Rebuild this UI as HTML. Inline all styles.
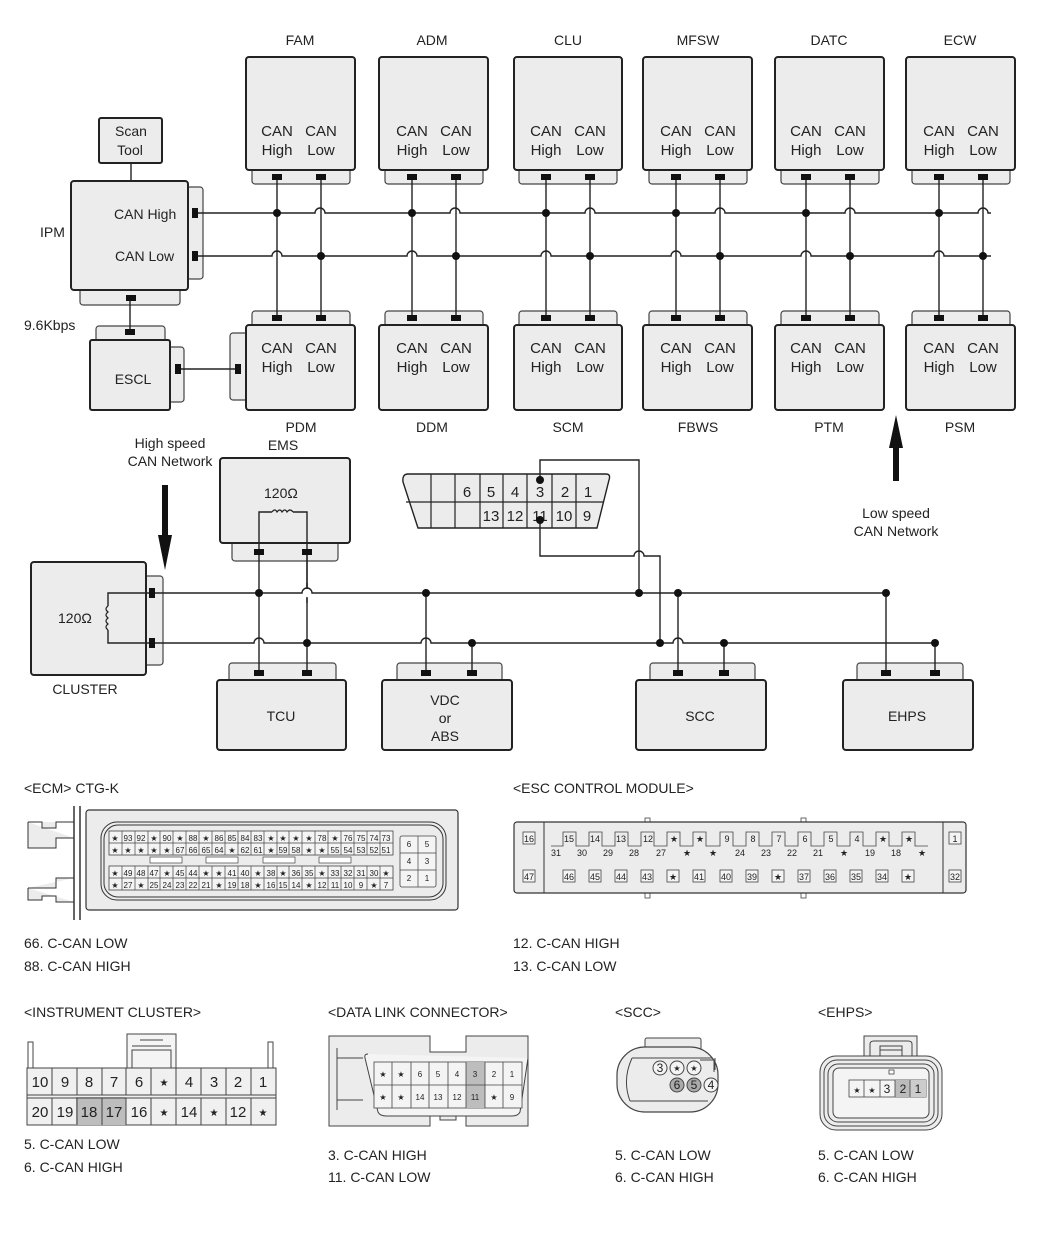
<!DOCTYPE html>
<html><head><meta charset="utf-8"><style>
html,body{margin:0;padding:0;background:#fff;}
svg{display:block;font-family:"Liberation Sans",sans-serif;}
.b{fill:#ececec;stroke:#222;stroke-width:2;}
.t{fill:#ececec;stroke:#444;stroke-width:1.2;}
.w{fill:none;stroke:#222;stroke-width:1.4;}
.p{fill:#111;}
.c{fill:#f2f2f2;stroke:#555;stroke-width:0.8;}
.g{fill:#aaa;stroke:#555;stroke-width:0.8;}
text{fill:#222;}
.l{font-size:14px;text-anchor:middle;}
.m{font-size:15px;text-anchor:middle;}
.s{font-size:14px;}
.n{font-size:8px;text-anchor:middle;}
.k{font-size:13px;text-anchor:middle;}
</style></head><body>
<svg width="1050" height="1242" viewBox="0 0 1050 1242" xmlns="http://www.w3.org/2000/svg">
<!-- top modules -->
<g>
<rect class="t" x="252" y="166" width="98" height="18" rx="3"/><rect class="b" x="246" y="57" width="109" height="113" rx="3"/>
<rect class="t" x="385" y="166" width="98" height="18" rx="3"/><rect class="b" x="379" y="57" width="109" height="113" rx="3"/>
<rect class="t" x="519" y="166" width="98" height="18" rx="3"/><rect class="b" x="514" y="57" width="108" height="113" rx="3"/>
<rect class="t" x="649" y="166" width="98" height="18" rx="3"/><rect class="b" x="643" y="57" width="109" height="113" rx="3"/>
<rect class="t" x="781" y="166" width="98" height="18" rx="3"/><rect class="b" x="775" y="57" width="109" height="113" rx="3"/>
<rect class="t" x="912" y="166" width="98" height="18" rx="3"/><rect class="b" x="906" y="57" width="109" height="113" rx="3"/>
</g>
<text class="l" x="300" y="45">FAM</text><text class="l" x="432" y="45">ADM</text><text class="l" x="568" y="45">CLU</text>
<text class="l" x="698" y="45">MFSW</text><text class="l" x="829" y="45">DATC</text><text class="l" x="960" y="45">ECW</text>
<g class="m">
<text x="277" y="136">CAN</text><text x="277" y="155">High</text><text x="321" y="136">CAN</text><text x="321" y="155">Low</text>
<text x="412" y="136">CAN</text><text x="412" y="155">High</text><text x="456" y="136">CAN</text><text x="456" y="155">Low</text>
<text x="546" y="136">CAN</text><text x="546" y="155">High</text><text x="590" y="136">CAN</text><text x="590" y="155">Low</text>
<text x="676" y="136">CAN</text><text x="676" y="155">High</text><text x="720" y="136">CAN</text><text x="720" y="155">Low</text>
<text x="806" y="136">CAN</text><text x="806" y="155">High</text><text x="850" y="136">CAN</text><text x="850" y="155">Low</text>
<text x="939" y="136">CAN</text><text x="939" y="155">High</text><text x="983" y="136">CAN</text><text x="983" y="155">Low</text>
</g>
<!-- bottom row modules -->
<rect class="t" x="230" y="333" width="18" height="67" rx="3"/>
<g>
<rect class="t" x="252" y="311" width="98" height="18" rx="3"/><rect class="b" x="246" y="325" width="109" height="85" rx="3"/>
<rect class="t" x="385" y="311" width="98" height="18" rx="3"/><rect class="b" x="379" y="325" width="109" height="85" rx="3"/>
<rect class="t" x="519" y="311" width="98" height="18" rx="3"/><rect class="b" x="514" y="325" width="108" height="85" rx="3"/>
<rect class="t" x="649" y="311" width="98" height="18" rx="3"/><rect class="b" x="643" y="325" width="109" height="85" rx="3"/>
<rect class="t" x="781" y="311" width="98" height="18" rx="3"/><rect class="b" x="775" y="325" width="109" height="85" rx="3"/>
<rect class="t" x="912" y="311" width="98" height="18" rx="3"/><rect class="b" x="906" y="325" width="109" height="85" rx="3"/>
</g>
<g class="m">
<text x="277" y="353">CAN</text><text x="277" y="372">High</text><text x="321" y="353">CAN</text><text x="321" y="372">Low</text>
<text x="412" y="353">CAN</text><text x="412" y="372">High</text><text x="456" y="353">CAN</text><text x="456" y="372">Low</text>
<text x="546" y="353">CAN</text><text x="546" y="372">High</text><text x="590" y="353">CAN</text><text x="590" y="372">Low</text>
<text x="676" y="353">CAN</text><text x="676" y="372">High</text><text x="720" y="353">CAN</text><text x="720" y="372">Low</text>
<text x="806" y="353">CAN</text><text x="806" y="372">High</text><text x="850" y="353">CAN</text><text x="850" y="372">Low</text>
<text x="939" y="353">CAN</text><text x="939" y="372">High</text><text x="983" y="353">CAN</text><text x="983" y="372">Low</text>
</g>
<text class="l" x="301" y="432">PDM</text><text class="l" x="432" y="432">DDM</text><text class="l" x="568" y="432">SCM</text>
<text class="l" x="698" y="432">FBWS</text><text class="l" x="829" y="432">PTM</text><text class="l" x="960" y="432">PSM</text>
<!-- IPM, Scan tool, ESCL -->
<rect class="b" x="99" y="118" width="63" height="45" rx="2"/>
<text class="l" x="131" y="136">Scan</text><text class="l" x="130" y="155">Tool</text>
<line class="w" x1="131" y1="163" x2="131" y2="182"/>
<rect class="t" x="187" y="187" width="16" height="92" rx="3"/>
<rect class="t" x="80" y="286" width="100" height="19" rx="3"/>
<rect class="b" x="71" y="181" width="117" height="109" rx="3"/>
<text class="s" x="114" y="219">CAN High</text><text class="s" x="115" y="261">CAN Low</text>
<text class="s" x="40" y="237">IPM</text>
<text class="s" x="24" y="330">9.6Kbps</text>
<rect class="t" x="167" y="347" width="17" height="55" rx="3"/>
<rect class="t" x="96" y="326" width="69" height="17" rx="3"/>
<rect class="b" x="90" y="340" width="80" height="70" rx="2"/>
<text class="l" x="133" y="384">ESCL</text>
<line class="w" x1="130" y1="298" x2="130" y2="333"/>
<line class="w" x1="178" y1="369" x2="237" y2="369"/>
<!-- top network wires -->
<path class="w" d="M195 213 H315 a5 5 0 0 1 10 0 H450 a5 5 0 0 1 10 0 H585 a5 5 0 0 1 10 0 H715 a5 5 0 0 1 10 0 H845 a5 5 0 0 1 10 0 H978 a5 5 0 0 1 10 0 H991"/>
<path class="w" d="M195 256 H272 a5 5 0 0 1 10 0 H407 a5 5 0 0 1 10 0 H541 a5 5 0 0 1 10 0 H671 a5 5 0 0 1 10 0 H801 a5 5 0 0 1 10 0 H934 a5 5 0 0 1 10 0 H991"/>
<path class="w" d="M277 177V318M321 177V318M412 177V318M456 177V318M546 177V318M590 177V318M676 177V318M720 177V318M806 177V318M850 177V318M939 177V318M983 177V318"/>
<g class="p">
<circle cx="277" cy="213" r="4"/><circle cx="412" cy="213" r="4"/><circle cx="546" cy="213" r="4"/><circle cx="676" cy="213" r="4"/><circle cx="806" cy="213" r="4"/><circle cx="939" cy="213" r="4"/>
<circle cx="321" cy="256" r="4"/><circle cx="456" cy="256" r="4"/><circle cx="590" cy="256" r="4"/><circle cx="720" cy="256" r="4"/><circle cx="850" cy="256" r="4"/><circle cx="983" cy="256" r="4"/>
<rect x="272" y="174" width="10" height="6"/><rect x="316" y="174" width="10" height="6"/><rect x="407" y="174" width="10" height="6"/><rect x="451" y="174" width="10" height="6"/><rect x="541" y="174" width="10" height="6"/><rect x="585" y="174" width="10" height="6"/><rect x="671" y="174" width="10" height="6"/><rect x="715" y="174" width="10" height="6"/><rect x="801" y="174" width="10" height="6"/><rect x="845" y="174" width="10" height="6"/><rect x="934" y="174" width="10" height="6"/><rect x="978" y="174" width="10" height="6"/>
<rect x="272" y="315" width="10" height="6"/><rect x="316" y="315" width="10" height="6"/><rect x="407" y="315" width="10" height="6"/><rect x="451" y="315" width="10" height="6"/><rect x="541" y="315" width="10" height="6"/><rect x="585" y="315" width="10" height="6"/><rect x="671" y="315" width="10" height="6"/><rect x="715" y="315" width="10" height="6"/><rect x="801" y="315" width="10" height="6"/><rect x="845" y="315" width="10" height="6"/><rect x="934" y="315" width="10" height="6"/><rect x="978" y="315" width="10" height="6"/>
<rect x="192" y="208" width="6" height="10"/><rect x="192" y="251" width="6" height="10"/>
<rect x="126" y="295" width="10" height="6"/><rect x="125" y="329" width="10" height="6"/>
<rect x="175" y="364" width="6" height="10"/><rect x="235" y="364" width="6" height="10"/>
</g>
<!-- arrows -->
<text class="l" x="170" y="448">High speed</text><text class="l" x="170" y="466">CAN Network</text>
<rect x="162" y="485" width="6" height="50" fill="#111"/><polygon points="158,535 172,535 165,570" fill="#111"/>
<rect x="893" y="448" width="6" height="33" fill="#111"/><polygon points="889,448 903,448 896,415" fill="#111"/>
<text class="l" x="896" y="518">Low speed</text><text class="l" x="896" y="536">CAN Network</text>
<!-- EMS -->
<text class="l" x="283" y="450">EMS</text>
<rect class="t" x="232" y="538" width="106" height="23" rx="3"/>
<rect class="b" x="220" y="458" width="130" height="85" rx="3"/>
<text class="s" x="264" y="498">120Ω</text>
<path class="w" d="M259 552 V512 H272 M293 512 H307 V552"/>
<path d="M272 512 q3 -4 5 0 q3 -4 5 0 q3 -4 5 0 q3 -4 6 0" fill="none" stroke="#222" stroke-width="1.2"/>
<!-- cluster -->
<rect class="t" x="143" y="576" width="20" height="89" rx="3"/>
<rect class="b" x="31" y="562" width="115" height="113" rx="3"/>
<text class="s" x="58" y="623">120Ω</text>
<path class="w" d="M152 593 H108 V606 M108 630 V643 H152"/>
<path d="M108 606 q-4 3 0 6 q-4 3 0 6 q-4 3 0 6 q-4 3 0 6" fill="none" stroke="#222" stroke-width="1.2"/>
<text class="l" x="85" y="694">CLUSTER</text>
<!-- lower modules -->
<rect class="t" x="229" y="663" width="107" height="21" rx="3"/><rect class="b" x="217" y="680" width="129" height="70" rx="3"/>
<rect class="t" x="397" y="663" width="105" height="21" rx="3"/><rect class="b" x="382" y="680" width="130" height="70" rx="3"/>
<rect class="t" x="650" y="663" width="105" height="21" rx="3"/><rect class="b" x="636" y="680" width="130" height="70" rx="3"/>
<rect class="t" x="857" y="663" width="106" height="21" rx="3"/><rect class="b" x="843" y="680" width="130" height="70" rx="3"/>
<text class="l" x="281" y="721">TCU</text>
<text class="l" x="445" y="705">VDC</text><text class="l" x="445" y="723">or</text><text class="l" x="445" y="741">ABS</text>
<text class="l" x="700" y="721">SCC</text><text class="l" x="907" y="721">EHPS</text>
<!-- DLC -->
<path d="M408 474 H606 Q611 474 609 480 L597 528 H418 L403 482 Q402 474 408 474Z" fill="#ececec" stroke="#222" stroke-width="1.4"/>
<path d="M406 502 H603 M431 474V528 M455 474V528 M480 474V528 M503 474V528 M527 474V528 M552 474V528 M576 474V528" stroke="#222" stroke-width="1.2" fill="none"/>
<g class="m"><text x="467" y="497">6</text><text x="491" y="497">5</text><text x="515" y="497">4</text><text x="540" y="497">3</text><text x="565" y="497">2</text><text x="588" y="497">1</text>
<text x="491" y="521">13</text><text x="515" y="521">12</text><text x="540" y="521">11</text><text x="564" y="521">10</text><text x="587" y="521">9</text></g>
<!-- lower network wires -->
<path class="w" d="M152 593 H886"/>
<path class="w" d="M152 643 H254 a5 5 0 0 1 10 0 H421 a5 5 0 0 1 10 0 H673 a5 5 0 0 1 10 0 H935"/>
<path class="w" d="M540 480 V460 H639 V593 M540 520 V556 H634 a5 5 0 0 1 10 0 H660 V643"/>
<path class="w" d="M259 552V673M307 552V673M426 593V673M472 643V673M678 593V673M724 643V673M886 593V673M935 643V673"/>
<path class="w" d="M307 552 V588 M307 593"/>
<g class="p">
<circle cx="540" cy="480" r="4"/><circle cx="540" cy="520" r="4"/>
<circle cx="259" cy="593" r="4"/><circle cx="426" cy="593" r="4"/><circle cx="639" cy="593" r="4"/><circle cx="678" cy="593" r="4"/><circle cx="886" cy="593" r="4"/>
<circle cx="307" cy="643" r="4"/><circle cx="472" cy="643" r="4"/><circle cx="660" cy="643" r="4"/><circle cx="724" cy="643" r="4"/><circle cx="935" cy="643" r="4"/>
<rect x="149" y="588" width="6" height="10"/><rect x="149" y="638" width="6" height="10"/>
<rect x="254" y="549" width="10" height="6"/><rect x="302" y="549" width="10" height="6"/>
<rect x="254" y="670" width="10" height="6"/><rect x="302" y="670" width="10" height="6"/><rect x="421" y="670" width="10" height="6"/><rect x="467" y="670" width="10" height="6"/><rect x="673" y="670" width="10" height="6"/><rect x="719" y="670" width="10" height="6"/><rect x="881" y="670" width="10" height="6"/><rect x="930" y="670" width="10" height="6"/>
</g>
<!-- hop for 307 over high line -->
<rect x="300" y="589" width="14" height="8" fill="#fff"/>
<path class="w" d="M300 593 H302 a5 5 0 0 1 10 0 H314"/>
<path class="w" d="M307 583 V588 M307 598 V603"/>

<!-- ECM connector -->
<text class="s" x="24" y="793">&lt;ECM&gt; CTG-K</text>
<path d="M80 806 V920 M74 806 V920" stroke="#333" stroke-width="1.5"/>
<path d="M28 822 H42 V828 H56 V822 H74 M28 822 V848 H56 V838 H74" fill="#ececec" stroke="#333" stroke-width="1"/>
<path d="M28 888 H56 V878 H74 M28 888 V900 H42 V896 H56 V902 H74" fill="#ececec" stroke="#333" stroke-width="1"/>
<rect x="86" y="810" width="372" height="100" rx="3" fill="#ececec" stroke="#333" stroke-width="1.2"/>
<rect x="101" y="822" width="345" height="78" rx="16" fill="none" stroke="#333" stroke-width="1"/>
<rect x="104" y="825" width="339" height="72" rx="14" fill="none" stroke="#333" stroke-width="1"/>
<g font-size="8" text-anchor="middle">
<rect x="109" y="831" width="284" height="24" fill="#f4f4f4" stroke="#444" stroke-width="0.8"/>
<rect x="109" y="866" width="284" height="24" fill="#f4f4f4" stroke="#444" stroke-width="0.8"/>
<path d="M109 843H393M109 878H393 M122 831V855M135 831V855M148 831V855M160 831V855M173 831V855M186 831V855M199 831V855M212 831V855M225 831V855M238 831V855M251 831V855M264 831V855M277 831V855M289 831V855M302 831V855M315 831V855M328 831V855M341 831V855M354 831V855M367 831V855M380 831V855 M122 866V890M135 866V890M148 866V890M160 866V890M173 866V890M186 866V890M199 866V890M212 866V890M225 866V890M238 866V890M251 866V890M264 866V890M277 866V890M289 866V890M302 866V890M315 866V890M328 866V890M341 866V890M354 866V890M367 866V890M380 866V890" stroke="#444" stroke-width="0.7"/>
<rect x="150" y="857" width="32" height="6" fill="#fff" stroke="#444" stroke-width="0.7"/><rect x="206" y="857" width="32" height="6" fill="#fff" stroke="#444" stroke-width="0.7"/><rect x="263" y="857" width="32" height="6" fill="#fff" stroke="#444" stroke-width="0.7"/><rect x="319" y="857" width="32" height="6" fill="#fff" stroke="#444" stroke-width="0.7"/>
<text x="115" y="841">★</text><text x="128" y="841">93</text><text x="141" y="841">92</text><text x="154" y="841">★</text><text x="167" y="841">90</text><text x="180" y="841">★</text><text x="193" y="841">88</text><text x="206" y="841">★</text><text x="219" y="841">86</text><text x="232" y="841">85</text><text x="245" y="841">84</text><text x="258" y="841">83</text><text x="271" y="841">★</text><text x="283" y="841">★</text><text x="296" y="841">★</text><text x="309" y="841">★</text><text x="322" y="841">78</text><text x="335" y="841">★</text><text x="348" y="841">76</text><text x="361" y="841">75</text><text x="374" y="841">74</text><text x="386" y="841">73</text>
<text x="115" y="853">★</text><text x="128" y="853">★</text><text x="141" y="853">★</text><text x="154" y="853">★</text><text x="167" y="853">★</text><text x="180" y="853">67</text><text x="193" y="853">66</text><text x="206" y="853">65</text><text x="219" y="853">64</text><text x="232" y="853">★</text><text x="245" y="853">62</text><text x="258" y="853">61</text><text x="271" y="853">★</text><text x="283" y="853">59</text><text x="296" y="853">58</text><text x="309" y="853">★</text><text x="322" y="853">★</text><text x="335" y="853">55</text><text x="348" y="853">54</text><text x="361" y="853">53</text><text x="374" y="853">52</text><text x="386" y="853">51</text>
<text x="115" y="876">★</text><text x="128" y="876">49</text><text x="141" y="876">48</text><text x="154" y="876">47</text><text x="167" y="876">★</text><text x="180" y="876">45</text><text x="193" y="876">44</text><text x="206" y="876">★</text><text x="219" y="876">★</text><text x="232" y="876">41</text><text x="245" y="876">40</text><text x="258" y="876">★</text><text x="271" y="876">38</text><text x="283" y="876">★</text><text x="296" y="876">36</text><text x="309" y="876">35</text><text x="322" y="876">★</text><text x="335" y="876">33</text><text x="348" y="876">32</text><text x="361" y="876">31</text><text x="374" y="876">30</text><text x="386" y="876">★</text>
<text x="115" y="888">★</text><text x="128" y="888">27</text><text x="141" y="888">★</text><text x="154" y="888">25</text><text x="167" y="888">24</text><text x="180" y="888">23</text><text x="193" y="888">22</text><text x="206" y="888">21</text><text x="219" y="888">★</text><text x="232" y="888">19</text><text x="245" y="888">18</text><text x="258" y="888">★</text><text x="271" y="888">16</text><text x="283" y="888">15</text><text x="296" y="888">14</text><text x="309" y="888">★</text><text x="322" y="888">12</text><text x="335" y="888">11</text><text x="348" y="888">10</text><text x="361" y="888">9</text><text x="374" y="888">★</text><text x="386" y="888">7</text>
<rect x="400" y="836" width="36" height="51" rx="2" fill="#f4f4f4" stroke="#444" stroke-width="0.8"/>
<path d="M418 836V887M400 853H436M400 870H436" stroke="#444" stroke-width="0.7"/>
<text x="409" y="847">6</text><text x="427" y="847">5</text><text x="409" y="864">4</text><text x="427" y="864">3</text><text x="409" y="881">2</text><text x="427" y="881">1</text>
</g>
<text class="s" x="24" y="948">66. C-CAN LOW</text><text class="s" x="24" y="971">88. C-CAN HIGH</text>

<!-- ESC -->
<text class="s" x="513" y="793">&lt;ESC CONTROL MODULE&gt;</text>
<rect x="645" y="818" width="5" height="5" fill="#fff" stroke="#444" stroke-width="0.8"/><rect x="801" y="818" width="5" height="5" fill="#fff" stroke="#444" stroke-width="0.8"/>
<rect x="645" y="893" width="5" height="5" fill="#fff" stroke="#444" stroke-width="0.8"/><rect x="801" y="893" width="5" height="5" fill="#fff" stroke="#444" stroke-width="0.8"/>
<rect x="514" y="822" width="452" height="71" rx="3" fill="#ececec" stroke="#333" stroke-width="1.2"/>
<path d="M544 822V893M943 822V893" stroke="#333" stroke-width="1"/>
<polyline points="551,846 563,846 563,832 576,832 576,846 589,846 589,832 602,832 602,846 615,846 615,832 628,832 628,846 641,846 641,832 654,832 654,846 667,846 667,832 680,832 680,846 693,846 693,832 706,832 706,846 720,846 720,832 733,832 733,846 746,846 746,832 759,832 759,846 772,846 772,832 785,832 785,846 798,846 798,832 811,832 811,846 824,846 824,832 837,832 837,846 850,846 850,832 863,832 863,846 876,846 876,832 889,832 889,846 902,846 902,832 915,832 915,846 928,846" fill="none" stroke="#444" stroke-width="0.8"/>
<g font-size="9" text-anchor="middle">
<g fill="#f4f4f4" stroke="#444" stroke-width="0.8">
<rect x="523" y="832" width="12" height="12"/><rect x="523" y="870" width="12" height="12"/><rect x="949" y="832" width="12" height="12"/><rect x="949" y="870" width="12" height="12"/>
</g>
<text x="529" y="842">16</text><text x="529" y="880">47</text><text x="955" y="842">1</text><text x="955" y="880">32</text>
<text x="569" y="842">15</text><text x="595" y="842">14</text><text x="621" y="842">13</text><text x="648" y="842">12</text><text x="674" y="842">★</text><text x="700" y="842">★</text><text x="727" y="842">9</text><text x="753" y="842">8</text><text x="779" y="842">7</text><text x="805" y="842">6</text><text x="831" y="842">5</text><text x="857" y="842">4</text><text x="883" y="842">★</text><text x="909" y="842">★</text>
<text x="556" y="856">31</text><text x="582" y="856">30</text><text x="608" y="856">29</text><text x="634" y="856">28</text><text x="661" y="856">27</text><text x="687" y="856">★</text><text x="713" y="856">★</text><text x="740" y="856">24</text><text x="766" y="856">23</text><text x="792" y="856">22</text><text x="818" y="856">21</text><text x="844" y="856">★</text><text x="870" y="856">19</text><text x="896" y="856">18</text><text x="922" y="856">★</text>
<g fill="#f4f4f4" stroke="#444" stroke-width="0.8">
<rect x="563" y="870" width="12" height="12"/><rect x="589" y="870" width="12" height="12"/><rect x="615" y="870" width="12" height="12"/><rect x="641" y="870" width="12" height="12"/><rect x="667" y="870" width="12" height="12"/><rect x="693" y="870" width="12" height="12"/><rect x="720" y="870" width="12" height="12"/><rect x="746" y="870" width="12" height="12"/><rect x="772" y="870" width="12" height="12"/><rect x="798" y="870" width="12" height="12"/><rect x="824" y="870" width="12" height="12"/><rect x="850" y="870" width="12" height="12"/><rect x="876" y="870" width="12" height="12"/><rect x="902" y="870" width="12" height="12"/>
</g>
<text x="569" y="880">46</text><text x="595" y="880">45</text><text x="621" y="880">44</text><text x="647" y="880">43</text><text x="673" y="880">★</text><text x="699" y="880">41</text><text x="726" y="880">40</text><text x="752" y="880">39</text><text x="778" y="880">★</text><text x="804" y="880">37</text><text x="830" y="880">36</text><text x="856" y="880">35</text><text x="882" y="880">34</text><text x="908" y="880">★</text>
</g>
<text class="s" x="513" y="948">12. C-CAN HIGH</text><text class="s" x="513" y="971">13. C-CAN LOW</text>

<!-- Instrument cluster -->
<text class="s" x="24" y="1017">&lt;INSTRUMENT CLUSTER&gt;</text>
<path d="M127 1068 V1034 H176 V1068" fill="#f4f4f4" stroke="#444" stroke-width="1"/>
<path d="M132 1068 V1050 H171 V1068 M132 1046 H171 M140 1040 H163" fill="none" stroke="#444" stroke-width="1"/>
<rect x="28" y="1042" width="5" height="26" fill="#fff" stroke="#444" stroke-width="1"/><rect x="268" y="1042" width="5" height="26" fill="#fff" stroke="#444" stroke-width="1"/>
<rect x="27" y="1068" width="249" height="57" fill="#f0f0f0" stroke="#444" stroke-width="1"/>
<rect x="76" y="1097" width="50" height="28" fill="#bdbdbd"/>
<path d="M27 1095 H276 M27 1098 H276 M52 1068V1095M77 1068V1095M102 1068V1095M126 1068V1095M151 1068V1095M176 1068V1095M201 1068V1095M226 1068V1095M251 1068V1095 M52 1098V1125M77 1098V1125M102 1098V1125M126 1098V1125M151 1098V1125M176 1098V1125M201 1098V1125M226 1098V1125M251 1098V1125" stroke="#444" stroke-width="1"/>
<g font-size="15" text-anchor="middle">
<text x="40" y="1087">10</text><text x="65" y="1087">9</text><text x="89" y="1087">8</text><text x="114" y="1087">7</text><text x="139" y="1087">6</text><text x="164" y="1086" font-size="10">★</text><text x="189" y="1087">4</text><text x="214" y="1087">3</text><text x="238" y="1087">2</text><text x="263" y="1087">1</text>
<text x="40" y="1117">20</text><text x="65" y="1117">19</text><text x="89" y="1117">18</text><text x="114" y="1117">17</text><text x="139" y="1117">16</text><text x="164" y="1116" font-size="10">★</text><text x="189" y="1117">14</text><text x="214" y="1116" font-size="10">★</text><text x="238" y="1117">12</text><text x="263" y="1116" font-size="10">★</text>
</g>
<text class="s" x="24" y="1149">5. C-CAN LOW</text><text class="s" x="24" y="1172">6. C-CAN HIGH</text>

<!-- Data link connector -->
<text class="s" x="328" y="1017">&lt;DATA LINK CONNECTOR&gt;</text>
<path d="M329 1036 H430 V1052 H466 V1036 H528 V1126 H466 V1110 H430 V1126 H329 Z" fill="#ececec" stroke="#444" stroke-width="1"/>
<rect x="440" y="1108" width="16" height="12" fill="#ececec" stroke="#444" stroke-width="1"/>
<path d="M337 1048 V1110 M337 1058 H363 M337 1100 H363" fill="none" stroke="#444" stroke-width="1"/>
<path d="M368 1054 Q364 1054 365 1058 L378 1112 Q380 1116 386 1116 H512 Q518 1116 520 1112 L528 1058" fill="#f4f4f4" stroke="#444" stroke-width="1"/>
<rect x="374" y="1062" width="148" height="46" fill="#f4f4f4" stroke="#444" stroke-width="0.8"/>
<rect x="466" y="1062" width="19" height="46" fill="#bdbdbd"/>
<path d="M374 1085H522 M392 1062V1108M411 1062V1108M429 1062V1108M448 1062V1108M466 1062V1108M485 1062V1108M503 1062V1108" stroke="#444" stroke-width="0.8"/>
<g font-size="8" text-anchor="middle">
<text x="383" y="1077">★</text><text x="401" y="1077">★</text><text x="420" y="1077">6</text><text x="438" y="1077">5</text><text x="457" y="1077">4</text><text x="475" y="1077">3</text><text x="494" y="1077">2</text><text x="512" y="1077">1</text>
<text x="383" y="1100">★</text><text x="401" y="1100">★</text><text x="420" y="1100">14</text><text x="438" y="1100">13</text><text x="457" y="1100">12</text><text x="475" y="1100">11</text><text x="494" y="1100">★</text><text x="512" y="1100">9</text>
</g>
<text class="s" x="328" y="1160">3. C-CAN HIGH</text><text class="s" x="328" y="1182">11. C-CAN LOW</text>

<!-- SCC connector -->
<text class="s" x="615" y="1017">&lt;SCC&gt;</text>
<rect x="645" y="1038" width="56" height="14" rx="2" fill="#ececec" stroke="#444" stroke-width="1"/>
<rect x="617" y="1047" width="101" height="65" rx="28" fill="#ececec" stroke="#444" stroke-width="1.2"/>
<path d="M632 1058 H712 M630 1101 H708 M632 1058 Q622 1080 630 1101" fill="none" stroke="#444" stroke-width="1"/>
<rect x="716" y="1052" width="15" height="12" fill="none"/>
<path d="M715 1058 V1070 M700 1060 H714 V1072" stroke="#444" fill="none"/>
<g font-size="12" text-anchor="middle">
<circle cx="660" cy="1068" r="7" fill="#f4f4f4" stroke="#444"/><circle cx="677" cy="1068" r="7" fill="#f4f4f4" stroke="#444"/><circle cx="694" cy="1068" r="7" fill="#f4f4f4" stroke="#444"/>
<circle cx="677" cy="1085" r="7" fill="#aaa" stroke="#444"/><circle cx="694" cy="1085" r="7" fill="#aaa" stroke="#444"/><circle cx="711" cy="1085" r="7" fill="#f4f4f4" stroke="#444"/>
<text x="660" y="1072">3</text><text x="677" y="1071" font-size="8">★</text><text x="694" y="1071" font-size="8">★</text>
<text x="677" y="1089">6</text><text x="694" y="1089">5</text><text x="711" y="1089">4</text>
</g>
<text class="s" x="615" y="1160">5. C-CAN LOW</text><text class="s" x="615" y="1182">6. C-CAN HIGH</text>

<!-- EHPS connector -->
<text class="s" x="818" y="1017">&lt;EHPS&gt;</text>
<path d="M864 1058 V1036 H917 V1058" fill="#ececec" stroke="#444" stroke-width="1"/>
<path d="M870 1058 V1044 Q870 1041 874 1041 H908 Q912 1041 912 1044 V1058 M880 1058 V1046 H902 V1058 M880 1050 H902" fill="none" stroke="#444" stroke-width="1"/>
<rect x="820" y="1056" width="122" height="74" rx="16" fill="#ececec" stroke="#444" stroke-width="1"/>
<rect x="824" y="1060" width="114" height="66" rx="13" fill="none" stroke="#444" stroke-width="1"/>
<rect x="828" y="1064" width="106" height="58" rx="10" fill="none" stroke="#444" stroke-width="1"/>
<rect x="833" y="1068" width="96" height="50" rx="6" fill="#f4f4f4" stroke="#444" stroke-width="1"/>
<rect x="889" y="1070" width="5" height="4" fill="#fff" stroke="#444" stroke-width="0.8"/>
<rect x="849" y="1080" width="77" height="17" fill="#f4f4f4" stroke="#444" stroke-width="0.8"/>
<rect x="895" y="1080" width="15" height="17" fill="#bbb"/><rect x="910" y="1080" width="16" height="17" fill="#ccc"/>
<path d="M864 1080V1097M880 1080V1097M895 1080V1097M910 1080V1097" stroke="#444" stroke-width="0.8"/>
<g font-size="12" text-anchor="middle"><text x="857" y="1093" font-size="8">★</text><text x="872" y="1093" font-size="8">★</text><text x="887" y="1093">3</text><text x="903" y="1093">2</text><text x="918" y="1093">1</text></g>
<text class="s" x="818" y="1160">5. C-CAN LOW</text><text class="s" x="818" y="1182">6. C-CAN HIGH</text>
</svg>
</body></html>
